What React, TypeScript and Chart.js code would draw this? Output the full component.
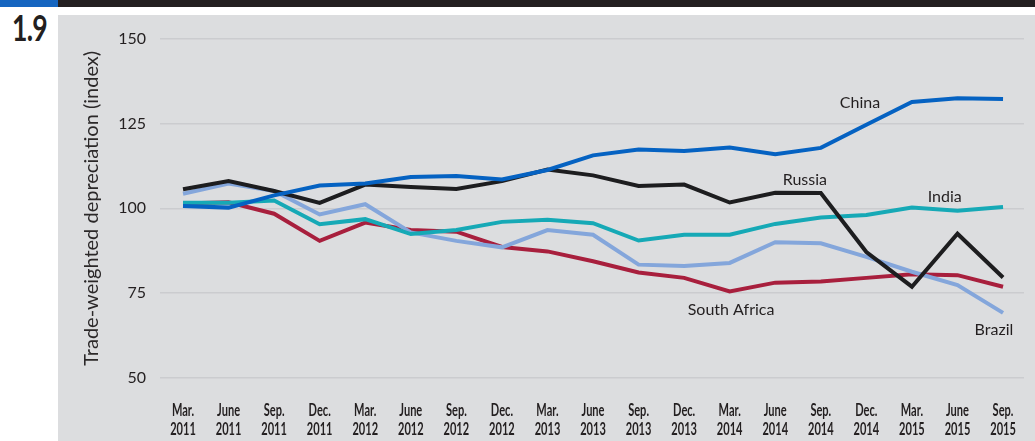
import { useEffect, useRef } from "react";
import { Chart, registerables } from "chart.js";

Chart.register(...registerables);

const categories: string[][] = [
  ["Mar.", "2011"], ["June", "2011"], ["Sep.", "2011"], ["Dec.", "2011"],
  ["Mar.", "2012"], ["June", "2012"], ["Sep.", "2012"], ["Dec.", "2012"],
  ["Mar.", "2013"], ["June", "2013"], ["Sep.", "2013"], ["Dec.", "2013"],
  ["Mar.", "2014"], ["June", "2014"], ["Sep.", "2014"], ["Dec.", "2014"],
  ["Mar.", "2015"], ["June", "2015"], ["Sep.", "2015"],
];

const china = [100.7, 100.2, 103.8, 106.7, 107.3, 109.2, 109.5, 108.5, 111.3, 115.6, 117.3, 116.9, 117.9, 115.9, 117.8, 124.6, 131.3, 132.4, 132.2];
const russia = [105.6, 108.0, 105.1, 101.6, 107.0, 106.3, 105.7, 108.0, 111.4, 109.7, 106.6, 107.0, 101.7, 104.6, 104.5, 87.1, 76.9, 92.5, 79.6];
const india = [101.6, 101.6, 102.3, 95.3, 96.8, 92.4, 93.6, 96.0, 96.6, 95.6, 90.5, 92.2, 92.2, 95.4, 97.3, 98.0, 100.2, 99.3, 100.4];
const southAfrica = [101.4, 101.8, 98.4, 90.4, 95.8, 93.6, 93.1, 88.6, 87.3, 84.4, 81.1, 79.5, 75.5, 78.1, 78.4, 79.5, 80.6, 80.3, 76.9];
const brazil = [104.3, 107.3, 105.1, 98.2, 101.2, 92.9, 90.4, 88.5, 93.6, 92.2, 83.4, 83.0, 83.9, 90.0, 89.7, 85.7, 81.3, 77.4, 69.2];

const yTicks = [50, 75, 100, 125, 150];

// series name labels anchored in data space (category index, index value)
const labelNames = ["China", "Russia", "India", "South Africa", "Brazil"];
const labelX = [14.86, 13.65, 16.72, 12.03, 17.8];
const labelY = [131.1, 108.3, 103.4, 70.2, 64.3];

const FONT = "Lato, 'Open Sans', sans-serif";

const seriesLabelPlugin = {
  id: "seriesLabels",
  afterDatasetsDraw(chart: any) {
    const { ctx, scales } = chart;
    const x = scales.x;
    const y = scales.y;
    ctx.save();
    ctx.font = `16px ${FONT}`;
    ctx.fillStyle = "#231f20";
    ctx.textAlign = "center";
    ctx.textBaseline = "middle";
    labelNames.forEach((t, i) => {
      ctx.fillText(t, x.getPixelForValue(labelX[i]), y.getPixelForValue(labelY[i]));
    });
    ctx.restore();
  },
};

// condensed two-line category labels placed at the x scale's tick positions
const condensedTickPlugin = {
  id: "condensedTicks",
  afterDraw(chart: any) {
    const { ctx, scales, chartArea } = chart;
    const x = scales.x;
    const squeeze = 0.67;
    ctx.save();
    ctx.font = `bold 16.5px ${FONT}`;
    ctx.fillStyle = "#231f20";
    ctx.textAlign = "center";
    ctx.textBaseline = "alphabetic";
    categories.forEach((lines, i) => {
      const px = x.getPixelForValue(i);
      lines.forEach((t, j) => {
        ctx.save();
        ctx.translate(px, chartArea.bottom + 38 + j * 19);
        ctx.scale(squeeze, 1);
        ctx.fillText(t, 0, 0);
        ctx.restore();
      });
    });
    ctx.restore();
  },
};

function toPoints(arr: number[]) {
  return arr.map((v, i) => ({ x: i, y: v }));
}

export default function App() {
  const ref = useRef<HTMLCanvasElement | null>(null);

  useEffect(() => {
    if (!ref.current) return;
    const mk = (label: string, data: number[], color: string) => ({
      label,
      data: toPoints(data),
      borderColor: color,
      backgroundColor: color,
      borderWidth: 4,
      pointRadius: 0,
      tension: 0,
      fill: false,
    });
    const chart = new Chart(ref.current, {
      type: "line",
      data: {
        datasets: [
          mk("China", china, "#0562c2"),
          mk("Russia", russia, "#1d1d1f"),
          mk("India", india, "#16a9b6"),
          mk("Brazil", brazil, "#84a6db"),
          mk("South Africa", southAfrica, "#a81f3d"),
        ],
      },
      options: {
        animation: false,
        responsive: false,
        maintainAspectRatio: false,
        layout: { padding: { top: 22, right: 11, left: 0, bottom: 0 } },
        plugins: {
          legend: { display: false },
          tooltip: { enabled: false },
        },
        scales: {
          x: {
            type: "linear",
            min: -0.505,
            max: 18.46,
            afterBuildTicks: (scale: any) => {
              scale.ticks = categories.map((_, i) => ({ value: i }));
            },
            afterFit: (scale: any) => {
              scale.height = 63;
            },
            grid: { display: false, drawTicks: false },
            border: { display: false },
            ticks: {
              display: false,
              callback: (v: any) => categories[Math.round(Number(v))],
            },
          },
          y: {
            min: 50,
            max: 150,
            afterBuildTicks: (scale: any) => {
              scale.ticks = yTicks.map((v) => ({ value: v }));
            },
            afterFit: (scale: any) => {
              scale.width = 102;
            },
            grid: { color: "#cbcccf", lineWidth: 1.5, drawTicks: false },
            border: { display: false },
            ticks: {
              padding: 14,
              color: "#231f20",
              font: { family: FONT, size: 16 },
            },
            title: {
              display: true,
              text: "Trade-weighted depreciation (index)",
              color: "#2b2829",
              font: { family: FONT, size: 20, lineHeight: 1.2 },
              padding: { top: 22, bottom: 0 },
            },
          },
        },
      },
      plugins: [seriesLabelPlugin, condensedTickPlugin],
    } as any);
    return () => chart.destroy();
  }, []);

  return (
    <div style={{ position: "absolute", left: 0, top: 0, width: 1035, height: 441, background: "#ffffff", overflow: "hidden" }}>
      <div style={{ position: "absolute", left: 0, top: 0, width: 58, height: 7, background: "#1565c0" }} />
      <div style={{ position: "absolute", left: 58, top: 0, width: 977, height: 7, background: "#231f20" }} />
      <div
        style={{
          position: "absolute",
          left: 12,
          top: 7,
          fontFamily: FONT,
          fontWeight: "bold",
          fontSize: 37,
          letterSpacing: -1,
          lineHeight: "40px",
          color: "#231f20",
          transform: "scaleX(0.72)",
          transformOrigin: "0 0",
          whiteSpace: "nowrap",
        }}
      >
        1.9
      </div>
      <div style={{ position: "absolute", left: 58, top: 15, width: 977, height: 426, background: "#dcdddf" }}>
        <canvas ref={ref} width={977} height={426} style={{ width: 977, height: 426, display: "block" }} />
      </div>
    </div>
  );
}
